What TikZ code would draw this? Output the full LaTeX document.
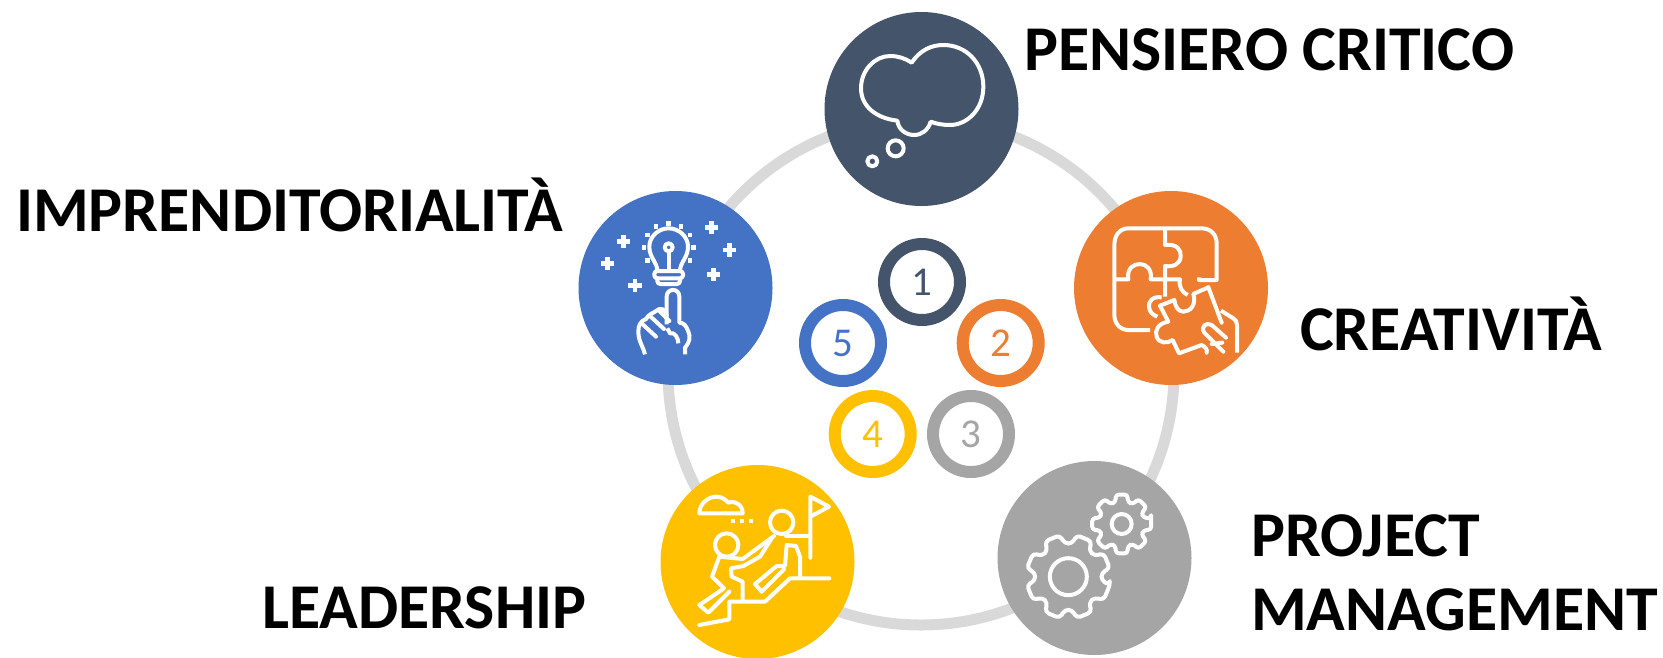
\documentclass[tikz,border=0pt]{standalone}
\usepackage{fontspec}
\setmainfont{Carlito}
\definecolor{cslate}{HTML}{44546A}
\definecolor{corange}{HTML}{ED7D31}
\definecolor{cgrey}{HTML}{A5A5A5}
\definecolor{cyellow}{HTML}{FFC000}
\definecolor{cblue}{HTML}{4472C4}
\definecolor{cring}{HTML}{D9D9D9}
\tikzset{
  bigdot/.style={circle,minimum size=194pt,inner sep=0pt,fill=#1},
  numdot/.style={circle,minimum size=76pt,inner sep=0pt,draw=#1,line width=12pt,text=#1,font=\fontsize{41}{41}\selectfont},
  lab/.style={anchor=base west,inner sep=0pt,font=\fontsize{63.8}{74}\selectfont\bfseries,text=black},
  ico/.style={draw=white,line width=4pt,line join=round,line cap=round},
  zoomed/.style={x=0.33333pt,y=-0.33333pt}
}
\begin{document}
\begin{tikzpicture}[x=1pt,y=-1pt]
\useasboundingbox (0,0) rectangle (1663,657);
\node[circle,minimum size=506pt,inner sep=0pt,draw=cring,line width=11pt] (ring) at (921,372) {};

\node[bigdot=cslate] (a) at (921.5,109) {};
\node[bigdot=corange] (b) at (1171,288) {};
\node[bigdot=cgrey] (c) at (1094.5,558) {};
\node[bigdot=cyellow] (d) at (757.5,562) {};
\node[bigdot=cblue] (e) at (675.5,288) {};

\node[numdot=cslate] (n1) at (922,282) {1};
\node[numdot=corange] (n2) at (1000.7,343) {2};
\node[numdot=cgrey] (n3) at (971,434) {3};
\node[numdot=cyellow] (n4) at (872.7,434) {4};
\node[numdot=cblue] (n5) at (843,343) {5};

\node[lab] (la) at (1024,70) {PENSIERO CRITICO};
\node[lab] (lb) at (1300,350) {CREATIVITÀ};
\node[lab,anchor=west,align=left] (lc) at (1251,573) {PROJECT\\MANAGEMENT};
\node[lab] (ld) at (262,628) {LEADERSHIP};
\node[lab] (le) at (16,231) {IMPRENDITORIALITÀ};

% thought cloud
\begin{scope}[shift={(810,0)},zoomed]
\draw[ico] (305,188) .. controls (330,150) and (365,135) .. (400,135)
  .. controls (470,135) and (520,190) .. (520,260)
  .. controls (520,330) and (470,375) .. (420,375)
  .. controls (400,375) and (380,372) .. (362,365)
  .. controls (355,390) and (335,405) .. (312,405)
  .. controls (290,405) and (265,390) .. (262,362)
  .. controls (200,355) and (153,320) .. (153,265)
  .. controls (153,210) and (195,168) .. (240,168)
  .. controls (265,168) and (285,175) .. (305,188) -- cycle;
\draw[ico] (257,445) circle (8pt);
\draw[ico] (187,484) circle (5pt);
\end{scope}

% puzzle
\begin{scope}[shift={(1065,190)},zoomed]
\draw[ico,line cap=butt] (255,420) -- (190,420) .. controls (165,420) and (148,400) .. (148,375)
  -- (148,165) .. controls (148,135) and (165,115) .. (190,115) -- (410,115)
  .. controls (438,115) and (455,135) .. (455,160) -- (455,270) -- (402,270) -- (402,262);
\draw[ico,line cap=butt] (300,115) -- (300,165) .. controls (335,160) and (350,180) .. (347,200)
  .. controls (345,222) and (325,232) .. (300,228) -- (300,320);
\draw[ico,line cap=butt] (148,268) -- (190,268) .. controls (185,235) and (205,222) .. (225,222)
  .. controls (245,222) and (262,240) .. (257,268) -- (345,268)
  .. controls (340,290) and (352,308) .. (368,315);
\draw[ico,line cap=butt] (290,322) .. controls (262,318) and (250,335) .. (252,350)
  .. controls (253,365) and (262,375) .. (277,380);
\draw[ico] (430,292) -- (385,312) .. controls (395,345) and (375,365) .. (355,365)
  .. controls (340,365) and (330,350) .. (328,330) -- (285,347) -- (310,395)
  .. controls (280,400) and (268,420) .. (275,440) .. controls (282,460) and (305,462) .. (323,450)
  -- (342,490) -- (410,465) .. controls (420,470) and (428,478) .. (425,488);
\draw[ico] (430,292) -- (470,398);
\draw[ico,line cap=butt] (468,362) -- (505,385) .. controls (512,390) and (516,395) .. (516,405) -- (516,488);
\draw[ico] (483,443) -- (440,405) .. controls (425,395) and (405,410) .. (418,428) -- (475,485);
\draw[ico] (440,462) -- (472,458);
\end{scope}

% gears
\begin{scope}[shift={(990,455)},zoomed]
\begin{scope}[shift={(235,365)},x=0.33333pt,y=-0.33333pt]
\draw[ico,rounded corners=4pt] (22.5-11:127)
  \foreach \t in {22.5,67.5,112.5,157.5,202.5,247.5,292.5,337.5}
  { -- (\t-11:127) -- (\t+11:127) -- (\t+16:100) -- (\t+29:100) } -- cycle;
\draw[ico] (0,0) circle (18.5pt);
\end{scope}
\begin{scope}[shift={(395,207)},x=0.33333pt,y=-0.33333pt]
\draw[ico,rounded corners=3pt] (-11:90)
  \foreach \t in {0,45,90,135,180,225,270,315}
  { -- (\t-11:90) -- (\t+11:90) -- (\t+16:68) -- (\t+29:68) } -- cycle;
\draw[ico] (0,0) circle (10pt);
\end{scope}
\end{scope}

% climbers
\begin{scope}[shift={(650,460)},zoomed]
\draw[ico] (148,160) .. controls (148,130) and (175,110) .. (200,110)
  .. controls (215,110) and (225,118) .. (235,128)
  .. controls (255,120) and (278,135) .. (278,160) -- cycle;
\foreach \x in {250,275,303} \draw[white,line width=4.5pt] (\x-6,183) -- (\x+6,183);
\draw[ico] (481,293) -- (481,110) -- (537,140) -- (481,170);
\draw[ico] (395,187) circle (11.7pt);
\draw[ico] (230,255) circle (11.7pt);
\draw[ico] (408,227) -- (481,227);
\draw[ico] (278,420) -- (278,365) -- (245,350) -- (243,325) -- (280,318) -- (330,290) -- (365,235);
\draw[ico] (208,290) -- (186,350) -- (222,385) -- (148,435) -- (175,458) -- (238,395);
\draw[ico] (208,290) -- (278,297) -- (372,228);
\draw[ico] (450,350) -- (450,290) -- (438,258) -- (410,255) -- (405,318) -- (380,318) -- (315,372) -- (335,395) -- (402,328);
\draw[ico] (148,495) -- (238,478) -- (238,425) -- (345,425) -- (420,355) -- (538,355);
\end{scope}

% bulb and hand
\begin{scope}[shift={(570,185)},zoomed]
\draw[ico] (262,258) .. controls (262,232) and (238,218) .. (238,185)
  .. controls (238,155) and (265,130) .. (296,130)
  .. controls (327,130) and (354,155) .. (354,185)
  .. controls (354,218) and (330,232) .. (330,258);
\draw[ico,rounded corners=3pt] (253,258) rectangle (339,280);
\draw[ico,rounded corners=3pt] (262,280) -- (262,297) -- (330,297) -- (330,280);
\draw[ico] (296,187) circle (4pt);
\draw[ico] (296,200) -- (296,258);
\foreach \x/\y in {222/188,232/150,258/125,296/115,333/125,360/150,370/188,232/226,360/226}
  \fill[white] (\x-7,\y-7) rectangle (\x+7,\y+7);
\foreach \x/\y in {160/170,113/236,195/302,425/128,478/195,430/268}
{ \draw[white,line width=4.5pt] (\x-20,\y) -- (\x+20,\y); \draw[white,line width=4.5pt] (\x,\y-20) -- (\x,\y+20); }
\draw[ico,line cap=butt] (345,508) -- (345,488) .. controls (360,470) and (362,455) .. (355,440)
  .. controls (348,420) and (340,413) .. (328,413) -- (328,335)
  .. controls (328,308) and (290,308) .. (290,335) -- (290,418);
\draw[ico,line cap=butt] (225,508) .. controls (222,490) and (205,470) .. (205,440)
  .. controls (205,420) and (212,408) .. (228,402) .. controls (238,385) and (250,385) .. (258,378)
  .. controls (270,365) and (290,372) .. (290,395);
\draw[ico] (218,418) -- (258,455);
\draw[ico] (242,395) -- (282,432);
\draw[ico] (268,378) -- (298,408);
\draw[ico,line cap=butt] (292,430) -- (300,445) .. controls (315,440) and (325,460) .. (325,475);
\end{scope}
\end{tikzpicture}
\end{document}
